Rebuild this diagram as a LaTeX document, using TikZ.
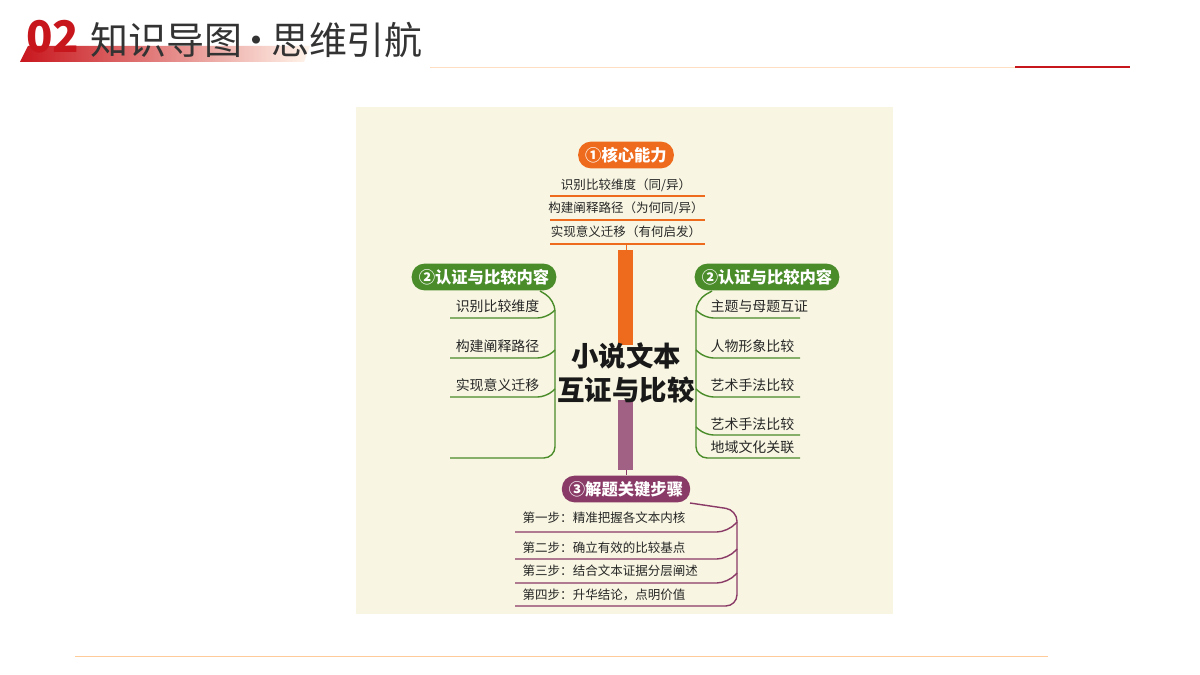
\documentclass[tikz,border=0pt]{standalone}
\usepackage{fontspec}
\setmainfont{Noto Sans CJK SC}
\usetikzlibrary{positioning}
\definecolor{hdred}{HTML}{C8161D}
\definecolor{coreorange}{HTML}{EE6A1C}
\definecolor{leafgreen}{HTML}{4A8C2A}
\definecolor{stepplum}{HTML}{8A3A66}
\definecolor{panelbg}{HTML}{F8F6E2}
\tikzset{
  pill/.style={rounded corners=9pt,minimum height=19pt,inner xsep=5pt,text=white,font=\fontsize{11.6}{11}\selectfont\bfseries},
  item/.style={font=\fontsize{8.9}{9}\selectfont,text=black!85,inner sep=1pt},
  leaf/.style={font=\fontsize{9.9}{10}\selectfont,text=black!85,inner sep=1pt},
  uline/.style={line width=1.1pt},
}
\begin{document}
\begin{tikzpicture}[x=0.025cm,y=-0.025cm]
\useasboundingbox (0,0) rectangle (1200,675);
\fill[white] (0,0) rectangle (1200,675);
% header
\shade[left color=hdred,right color=orange!8] (20,62) -- (28,46) -- (310,46) -- (304,62) -- cycle;
\node[font=\fontsize{31}{31}\selectfont\bfseries\itshape,text=hdred,anchor=west,inner sep=0] (num) at (26,37) {02};
\node[font=\fontsize{27}{27}\selectfont,text=black!80,anchor=west,inner sep=0] (title) at (90,40) {知识导图\kern-0.12em•\kern-0.12em思维引航};
\draw[orange!25,line width=0.6pt] (430,67) -- (1015,67);
\draw[hdred,line width=2pt] (1015,67) -- (1130,67);
\draw[orange!40,line width=0.6pt] (75,656) -- (1048,656);
% panel
\fill[panelbg] (356,107) rectangle (893,614);
% core bars
\fill[coreorange] (618,250) rectangle (633,345);
\fill[stepplum!80] (618,400) rectangle (633,470);
\node[font=\fontsize{19.5}{24}\selectfont\bfseries,align=center,text=black!90] (centre) at (626,373) {小说文本\\互证与比较};
% core ability
\node[pill,fill=coreorange] (core) at (626,155) {①核心能力};
\node[item] (c1) at (626,185) {识别比较维度（同/异）};
\node[item] (c2) at (626,208) {构建阐释路径（为何同/异）};
\node[item] (c3) at (626,232) {实现意义迁移（有何启发）};
\foreach \y in {196,220,244}
  \draw[uline,coreorange] (550,\y) -- (705,\y);
\draw[coreorange] (626,244) -- (626,250);
% left branch
\node[pill,fill=leafgreen] (lhead) at (484,277) {②认证与比较内容};
\node[leaf,anchor=east] (l1) at (541,306) {识别比较维度};
\node[leaf,anchor=east] (l2) at (541,346) {构建阐释路径};
\node[leaf,anchor=east] (l3) at (541,385) {实现意义迁移};
\draw[leafgreen,line width=1pt,rounded corners=8pt] (540,291) -- (555,300) -- (555,458) -- (450,458);
\foreach \y in {318,358,397}
  \draw[leafgreen,line width=1pt,rounded corners=6pt] (450,\y) -- (546,\y) -- (555,\y-8);
% right branch
\node[pill,fill=leafgreen] (rhead) at (767,277) {②认证与比较内容};
\node[leaf,anchor=west] (r1) at (709,306) {主题与母题互证};
\node[leaf,anchor=west] (r2) at (709,346) {人物形象比较};
\node[leaf,anchor=west] (r3) at (709,385) {艺术手法比较};
\node[leaf,anchor=west] (r4) at (709,424) {艺术手法比较};
\node[leaf,anchor=west] (r5) at (709,447) {地域文化关联};
\draw[leafgreen,line width=1pt,rounded corners=8pt] (712,291) -- (696,300) -- (696,458) -- (800,458);
\foreach \y in {318,358,397,435}
  \draw[leafgreen,line width=1pt,rounded corners=6pt] (800,\y) -- (705,\y) -- (696,\y-8);
% steps
\node[pill,fill=stepplum] (steps) at (626,489) {③解题关键步骤};
\draw[stepplum] (626,470) -- (steps);
\node[item,anchor=west] (s1) at (521,518) {第一步：精准把握各文本内核};
\node[item,anchor=west] (s2) at (521,548) {第二步：确立有效的比较基点};
\node[item,anchor=west] (s3) at (521,571) {第三步：结合文本证据分层阐述};
\node[item,anchor=west] (s4) at (521,595) {第四步：升华结论，点明价值};
\draw[stepplum,line width=1pt,rounded corners=8pt] (690,503) -- (737,510) -- (737,606) -- (515,606);
\foreach \y in {532,559,583}
  \draw[stepplum,line width=1pt,rounded corners=8pt] (515,\y) -- (728,\y) -- (737,\y-10);
\end{tikzpicture}
\end{document}
